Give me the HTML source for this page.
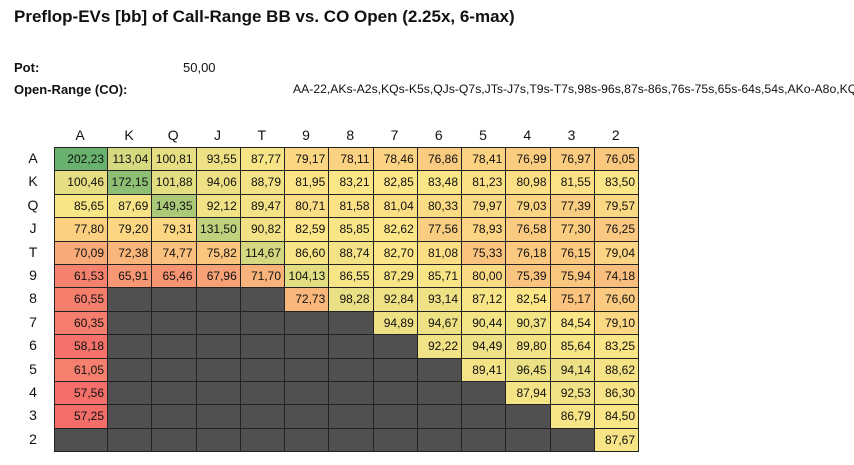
<!DOCTYPE html>
<html><head><meta charset="utf-8"><style>
body{margin:0;width:854px;height:465px;background:#fff;font-family:"Liberation Sans",Arial,sans-serif;overflow:hidden;position:relative;color:#111}
.t{position:absolute;white-space:nowrap}
.c{position:absolute;border:1px solid #222;box-sizing:border-box;text-align:right;padding-right:3px;font-size:12px;line-height:22px}
.h{position:absolute;font-size:14px;width:20px;text-align:center}
</style></head><body>
<div class="t" style="left:14px;top:7px;font-size:17px;font-weight:bold">Preflop-EVs [bb] of Call-Range BB vs. CO Open (2.25x, 6-max)</div>
<div class="t" style="left:14px;top:60px;font-size:13px;font-weight:bold">Pot:</div>
<div class="t" style="left:183px;top:60px;font-size:13px">50,00</div>
<div class="t" style="left:14px;top:82px;font-size:13px;font-weight:bold">Open-Range (CO):</div>
<div class="t" style="left:293px;top:82px;font-size:12.2px">AA-22,AKs-A2s,KQs-K5s,QJs-Q7s,JTs-J7s,T9s-T7s,98s-96s,87s-86s,76s-75s,65s-64s,54s,AKo-A8o,KQ</div>
<div id="g"></div>
<script>
var R=["A","K","Q","J","T","9","8","7","6","5","4","3","2"];
var D=[
"202,23 113,04 100,81 93,55 87,77 79,17 78,11 78,46 76,86 78,41 76,99 76,97 76,05",
"100,46 172,15 101,88 94,06 88,79 81,95 83,21 82,85 83,48 81,23 80,98 81,55 83,50",
"85,65 87,69 149,35 92,12 89,47 80,71 81,58 81,04 80,33 79,97 79,03 77,39 79,57",
"77,80 79,20 79,31 131,50 90,82 82,59 85,85 82,62 77,56 78,93 76,58 77,30 76,25",
"70,09 72,38 74,77 75,82 114,67 86,60 88,74 82,70 81,08 75,33 76,18 76,15 79,04",
"61,53 65,91 65,46 67,96 71,70 104,13 86,55 87,29 85,71 80,00 75,39 75,94 74,18",
"60,55 - - - - 72,73 98,28 92,84 93,14 87,12 82,54 75,17 76,60",
"60,35 - - - - - - 94,89 94,67 90,44 90,37 84,54 79,10",
"58,18 - - - - - - - 92,22 94,49 89,80 85,64 83,25",
"61,05 - - - - - - - - 89,41 96,45 94,14 88,62",
"57,56 - - - - - - - - - 87,94 92,53 86,30",
"57,25 - - - - - - - - - - 86,79 84,50",
"- - - - - - - - - - - - 87,67"].map(function(s){return s.split(" ")});
var all=[];D.forEach(function(r){r.forEach(function(v){if(v!="-")all.push(parseFloat(v.replace(",",".")))})});
var s=all.slice().sort(function(a,b){return a-b});var mn=s[0],mx=s[s.length-1],md=s[Math.floor(s.length/2)];
function mix(a,b,t){return "rgb("+a.map(function(x,i){return Math.round(x+(b[i]-x)*t)}).join(",")+")"}
var red=[244,110,105],yel=[252,230,135],grn=[105,178,110];
function col(v){return v<md?mix(red,yel,(v-mn)/(md-mn)):mix(yel,grn,(v-md)/(mx-md))}
var RH=23.4,h="";
function cx(j){return j==0?54:107+(j-1)*44.25}
D.forEach(function(r,i){r.forEach(function(v,j){var x=cx(j),w=j==0?54:45.25,y=147+i*RH;
var st='left:'+x+'px;top:'+y+'px;width:'+w+'px;height:'+(RH+1)+'px;';
if(v=="-")h+='<div class="c" style="'+st+'background:#505050"></div>';else h+='<div class="c" style="'+st+'background:'+col(parseFloat(v.replace(",",".")))+'">'+v+'</div>';});});
R.forEach(function(c,i){var x=i==0?80:129+(i-1)*44.25;h+='<div class="h" style="left:'+(x-10)+'px;top:127px">'+c+'</div>';h+='<div class="h" style="left:23px;top:'+(150+i*RH)+'px">'+c+'</div>';});
document.getElementById("g").innerHTML=h;
</script>
</body></html>
